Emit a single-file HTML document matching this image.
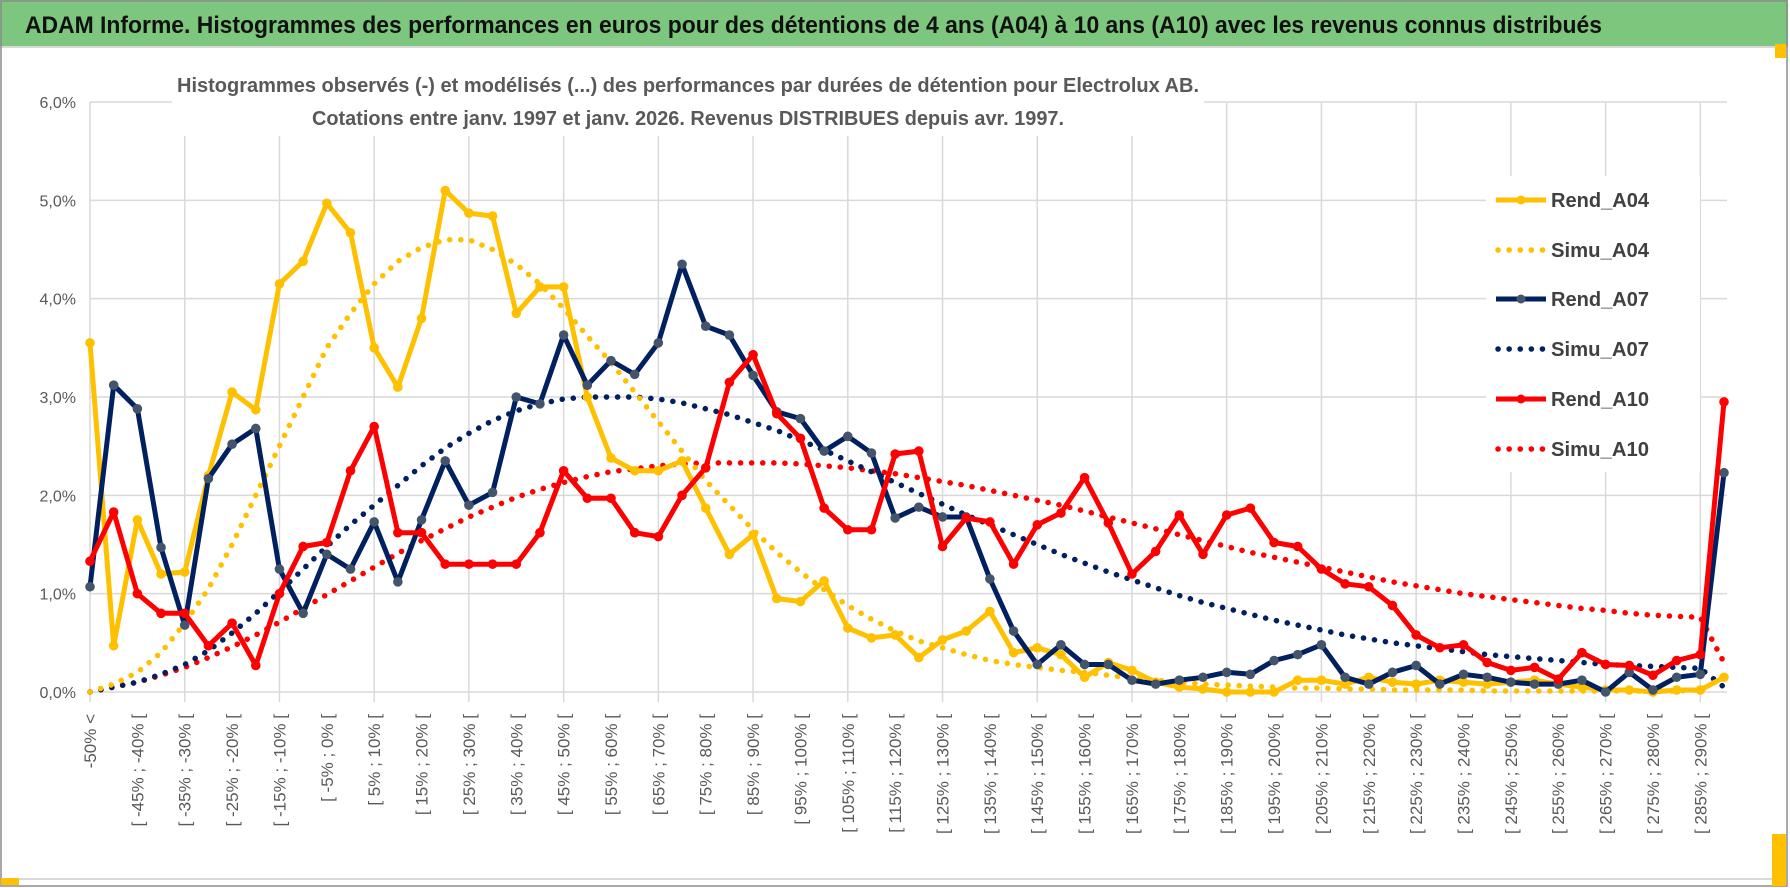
<!DOCTYPE html>
<html><head><meta charset="utf-8"><style>
html,body{margin:0;padding:0;background:#fff;}
svg{display:block;font-family:"Liberation Sans",sans-serif;}
</style></head><body>
<svg id="chart" width="1790" height="888" viewBox="0 0 1790 888" xmlns="http://www.w3.org/2000/svg">
<rect x="0" y="0" width="1790" height="888" fill="#fff"/>
<rect x="0" y="0" width="1788" height="46" fill="#7dc67d"/>
<line x1="0" y1="47" x2="1788" y2="47" stroke="#d9d9d9" stroke-width="2"/>
<text x="25" y="33" font-size="24" font-weight="bold" fill="#111" textLength="1577" lengthAdjust="spacingAndGlyphs">ADAM Informe. Histogrammes des performances en euros pour des détentions de 4 ans (A04) à 10 ans (A10) avec les revenus connus distribués</text>
<rect x="1" y="1" width="1786" height="885" fill="none" stroke="#8c8c8c" stroke-width="1.5"/>
<line x1="2" y1="879" x2="1780" y2="879" stroke="#d9d9d9" stroke-width="2"/>
<rect x="1" y="878" width="18" height="7" fill="#ffc000"/>
<rect x="1772" y="834" width="14" height="52" fill="#ffc000"/>
<rect x="1775" y="44" width="11" height="14" fill="#ffc000"/>
<g id="grid"></g>
<g id="axes"></g>
<rect x="172" y="68" width="1032" height="68" fill="#fff"/>
<text x="177" y="92" font-size="20" font-weight="bold" fill="#595959" textLength="1022" lengthAdjust="spacingAndGlyphs">Histogrammes observés (-) et modélisés (...) des performances par durées de détention pour Electrolux AB.</text>
<text x="312" y="125" font-size="20" font-weight="bold" fill="#595959" textLength="752" lengthAdjust="spacingAndGlyphs">Cotations entre janv. 1997 et janv. 2026. Revenus DISTRIBUES depuis avr. 1997.</text>
<g id="series"></g>
<g id="legend"></g>
</svg>
<script>
const categories = (function(){const c=["-50% <"];for(let a=-50;a<295;a+=5){c.push("[ "+a+"% ; "+(a+5)+"% [");}return c;})();
const rendA04 = [3.55,0.47,1.75,1.2,1.22,2.2,3.05,2.87,4.15,4.38,4.97,4.67,3.5,3.1,3.8,5.1,4.87,4.84,3.85,4.12,4.12,3.0,2.38,2.25,2.25,2.35,1.87,1.4,1.6,0.95,0.92,1.13,0.65,0.55,0.58,0.35,0.53,0.62,0.82,0.4,0.45,0.38,0.15,0.3,0.22,0.1,0.05,0.03,0.0,0.0,0.0,0.12,0.12,0.08,0.15,0.1,0.08,0.12,0.1,0.08,0.1,0.12,0.08,0.05,0.02,0.02,0.0,0.02,0.02,0.15];
const simuA04 = [0.0,0.08,0.2,0.4,0.7,1.05,1.5,2.0,2.5,3.0,3.5,3.85,4.15,4.38,4.52,4.6,4.6,4.5,4.35,4.15,3.9,3.62,3.35,3.05,2.75,2.45,2.15,1.9,1.65,1.42,1.22,1.04,0.88,0.74,0.62,0.52,0.45,0.38,0.32,0.28,0.25,0.22,0.2,0.17,0.14,0.12,0.1,0.08,0.07,0.06,0.05,0.04,0.04,0.03,0.03,0.02,0.02,0.02,0.02,0.01,0.01,0.01,0.01,0.01,0.01,0.01,0.01,0.01,0.02,0.15];
const rendA07 = [1.07,3.12,2.88,1.47,0.68,2.17,2.52,2.68,1.25,0.8,1.4,1.25,1.73,1.12,1.75,2.35,1.9,2.03,3.0,2.93,3.63,3.12,3.37,3.23,3.55,4.35,3.72,3.63,3.22,2.85,2.78,2.45,2.6,2.43,1.77,1.88,1.78,1.78,1.15,0.62,0.28,0.48,0.28,0.28,0.12,0.08,0.12,0.15,0.2,0.18,0.32,0.38,0.48,0.15,0.08,0.2,0.27,0.08,0.18,0.15,0.1,0.08,0.08,0.12,0.0,0.2,0.02,0.15,0.18,2.23];
const simuA07 = [0.0,0.05,0.1,0.18,0.28,0.42,0.6,0.8,1.02,1.25,1.48,1.7,1.9,2.1,2.3,2.48,2.63,2.76,2.86,2.93,2.98,3.0,3.0,3.0,2.98,2.94,2.88,2.82,2.74,2.66,2.56,2.46,2.35,2.24,2.13,2.02,1.91,1.8,1.7,1.6,1.5,1.4,1.31,1.22,1.14,1.06,0.98,0.91,0.85,0.79,0.73,0.68,0.63,0.58,0.54,0.5,0.47,0.44,0.41,0.38,0.36,0.34,0.32,0.3,0.28,0.27,0.26,0.25,0.24,0.05];
const rendA10 = [1.33,1.83,1.0,0.8,0.8,0.47,0.7,0.27,1.0,1.48,1.52,2.25,2.7,1.62,1.62,1.3,1.3,1.3,1.3,1.62,2.25,1.97,1.97,1.62,1.58,2.0,2.28,3.15,3.43,2.83,2.58,1.87,1.65,1.65,2.42,2.45,1.48,1.77,1.73,1.3,1.7,1.82,2.18,1.72,1.2,1.43,1.8,1.4,1.8,1.87,1.52,1.48,1.25,1.1,1.07,0.88,0.58,0.45,0.48,0.3,0.22,0.25,0.13,0.4,0.28,0.27,0.17,0.32,0.38,2.95];
const simuA10 = [0.0,0.05,0.1,0.17,0.25,0.35,0.46,0.58,0.71,0.85,0.99,1.13,1.27,1.41,1.54,1.66,1.78,1.88,1.98,2.06,2.13,2.19,2.24,2.27,2.3,2.32,2.33,2.33,2.33,2.33,2.32,2.3,2.28,2.25,2.22,2.18,2.14,2.1,2.05,2.0,1.95,1.9,1.84,1.78,1.72,1.66,1.6,1.54,1.48,1.42,1.37,1.32,1.27,1.22,1.17,1.12,1.08,1.04,1.0,0.97,0.94,0.91,0.88,0.85,0.83,0.8,0.78,0.77,0.76,0.3];
const yTicks = [0,1,2,3,4,5,6];
const yTickLabels = ["0,0%","1,0%","2,0%","3,0%","4,0%","5,0%","6,0%"];
const seriesNames = ["Rend_A04","Simu_A04","Rend_A07","Simu_A07","Rend_A10","Simu_A10"];

const NS="http://www.w3.org/2000/svg";
const X0=90, X1=1724, Y0=692, Y6=102, XR=1727;
function xs(i){return X0+(X1-X0)*i/(categories.length-1);}
function ys(v){return Y0-(Y0-Y6)*v/6;}
function mk(tag,attrs,parent){const e=document.createElementNS(NS,tag);for(const k in attrs)e.setAttribute(k,attrs[k]);parent.appendChild(e);return e;}

const grid=document.getElementById('grid');
const axes=document.getElementById('axes');
yTicks.forEach((t,i)=>{
  const l=mk('line',{x1:X0,x2:XR,y1:ys(t),y2:ys(t),stroke:'#d9d9d9','stroke-width':1.5},grid);
  
  
  const tx=mk('text',{x:76,y:ys(t)+6,'text-anchor':'end','font-size':16,fill:'#595959'},axes);
  tx.textContent=yTickLabels[i];
  
  
});
for(let i=0;i<categories.length;i+=4){
  const l=mk('line',{x1:xs(i),x2:xs(i),y1:Y6,y2:Y0+10,stroke:'#d9d9d9','stroke-width':1.5},grid);
  
  
}
categories.forEach((c,i)=>{
  if(i%2) return;
  const x=xs(i)+6;
  const tx=mk('text',{x:x,y:714,transform:'rotate(-90 '+x+' 714)','text-anchor':'end','font-size':17,fill:'#595959'},axes);
  tx.textContent=c;
  
  
});

const series=document.getElementById('series');
function pts(arr){return arr.map((v,i)=>xs(i).toFixed(1)+','+ys(v).toFixed(1)).join(' ');}
function dotted(arr,color,name){
  const p=mk('polyline',{points:pts(arr),fill:'none',stroke:color,'stroke-width':5.5,'stroke-linecap':'round','stroke-dasharray':'0.1 11'},series);
  
  
}
function solid(arr,color,mcolor,name){
  const g=mk('g',{},series);
  
  
  mk('polyline',{points:pts(arr),fill:'none',stroke:color,'stroke-width':5,'stroke-linejoin':'round'},g);
  arr.forEach((v,i)=>{
    const c=mk('circle',{cx:xs(i),cy:ys(v),r:4.8,fill:mcolor},g);
    
    
  });
}
dotted(simuA10,'#ff0000','simu-a10-line');
dotted(simuA07,'#002060','simu-a07-line');
dotted(simuA04,'#ffc000','simu-a04-line');
solid(rendA04,'#ffc000','#ffc000','rend-a04-line');
solid(rendA07,'#002060','#44546a','rend-a07-line');
solid(rendA10,'#ff0000','#ff0000','rend-a10-line');

const legend=document.getElementById('legend');
mk('rect',{x:1486,y:176,width:214,height:296,fill:'#fff'},legend);
const legY=[200,250,299,349,399,449];
const legCol=['#ffc000','#ffc000','#002060','#002060','#ff0000','#ff0000'];
const legMk=['#ffc000',null,'#44546a',null,'#ff0000',null];
seriesNames.forEach((n,i)=>{
  const g=mk('g',{},legend);
  
  
  const y=legY[i];
  if(i%2===0){
    mk('line',{x1:1496,x2:1546,y1:y,y2:y,stroke:legCol[i],'stroke-width':5},g);
    mk('circle',{cx:1521,cy:y,r:4.5,fill:legMk[i]},g);
  } else {
    mk('line',{x1:1498,x2:1546,y1:y,y2:y,stroke:legCol[i],'stroke-width':5.5,'stroke-linecap':'round','stroke-dasharray':'0.1 11'},g);
  }
  const t=mk('text',{x:1551,y:y+7,'font-size':20,'font-weight':'bold',fill:'#404040',textLength:98,lengthAdjust:'spacingAndGlyphs'},g);
  t.textContent=n;
});
</script>
</body></html>
